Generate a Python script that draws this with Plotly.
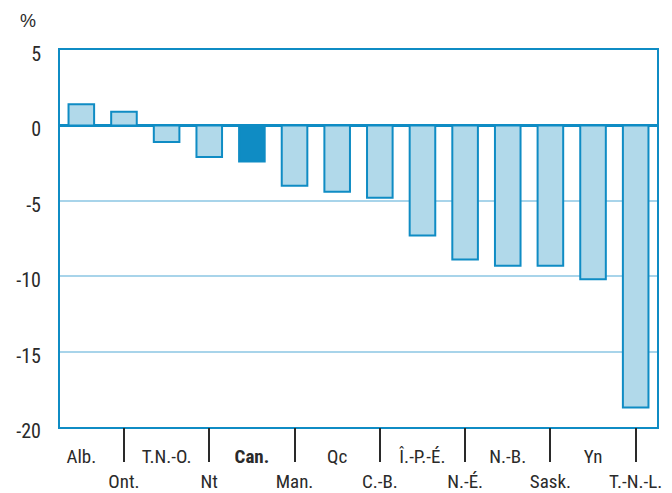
import plotly.graph_objects as go

provinces = ["Alb.", "Ont.", "T.N.-O.", "Nt", "Can.", "Man.", "Qc", "C.-B.",
             "Î.-P.-É.", "N.-É.", "N.-B.", "Sask.", "Yn", "T.-N.-L."]
change = [1.4, 0.9, -1.1, -2.1, -2.4, -4.0, -4.4, -4.8,
          -7.3, -8.9, -9.3, -9.3, -10.2, -18.7]
y_ticks = [5, 0, -5, -10, -15, -20]

blue = "#0f8cc4"
light = "#b1d9ea"
txt = "#2a2a2a"
font = "Liberation Sans Narrow, Roboto Condensed, Liberation Sans, Arial, sans-serif"

pos = list(range(len(provinces)))
fills = [blue if p == "Can." else light for p in provinces]

labels = []
for i, p in enumerate(provinces):
    t = "<b>" + p + "</b>" if p == "Can." else p
    labels.append(t if i % 2 == 0 else "<br>" + t)

fig = go.Figure()
fig.add_trace(go.Bar(
    x=pos, y=change, width=0.6,
    marker=dict(color=fills, line=dict(color=blue, width=2)),
    hoverinfo="skip",
))
# invisible trace carrying the separator ticks on the second axis
fig.add_trace(go.Scatter(x=[0], y=[0], xaxis="x2", mode="markers",
                         marker=dict(opacity=0), hoverinfo="skip", showlegend=False))

fig.update_layout(
    width=672, height=493,
    margin=dict(l=60, r=15, t=50, b=66),
    paper_bgcolor="white", plot_bgcolor="white",
    showlegend=False,
    font=dict(family=font, size=20, color=txt),
    xaxis=dict(
        range=[-0.5, 13.5], tickvals=pos, ticktext=labels,
        tickangle=0, automargin=False,
        ticks="outside", ticklen=11, tickcolor="rgba(0,0,0,0)",
        showline=True, linecolor=blue, linewidth=2, mirror=True,
        showgrid=False, zeroline=False,
        tickfont=dict(size=19, color=txt),
    ),
    xaxis2=dict(
        range=[-0.5, 13.5], overlaying="x", anchor="y", side="bottom",
        tickvals=pos[1::2], showticklabels=False, automargin=False,
        ticks="outside", ticklen=34, tickwidth=1.5, tickcolor=txt,
        showline=False, showgrid=False, zeroline=False,
    ),
    yaxis=dict(
        range=[-20, 5], tickvals=y_ticks,
        ticktext=[str(v) for v in y_ticks], automargin=False,
        ticklabelshift=4,
        showline=True, linecolor=blue, linewidth=2, mirror=True,
        showgrid=True, gridcolor="#a8d4ea", gridwidth=1.5,
        zeroline=True, zerolinecolor=blue, zerolinewidth=3,
        ticks="outside", ticklen=13, tickcolor="rgba(0,0,0,0)",
        tickfont=dict(size=20, color=txt),
    ),
    annotations=[dict(
        text="%", xref="paper", yref="paper",
        x=(28 - 60) / 597, y=1 + (50 - 21) / 377,
        xanchor="center", yanchor="middle",
        showarrow=False, font=dict(family="Liberation Sans, Arial, sans-serif",
                                   size=18, color=txt),
    )],
)

fig.write_html("out.html", config={"displayModeBar": False},
               post_script="document.body.style.margin='0';")
